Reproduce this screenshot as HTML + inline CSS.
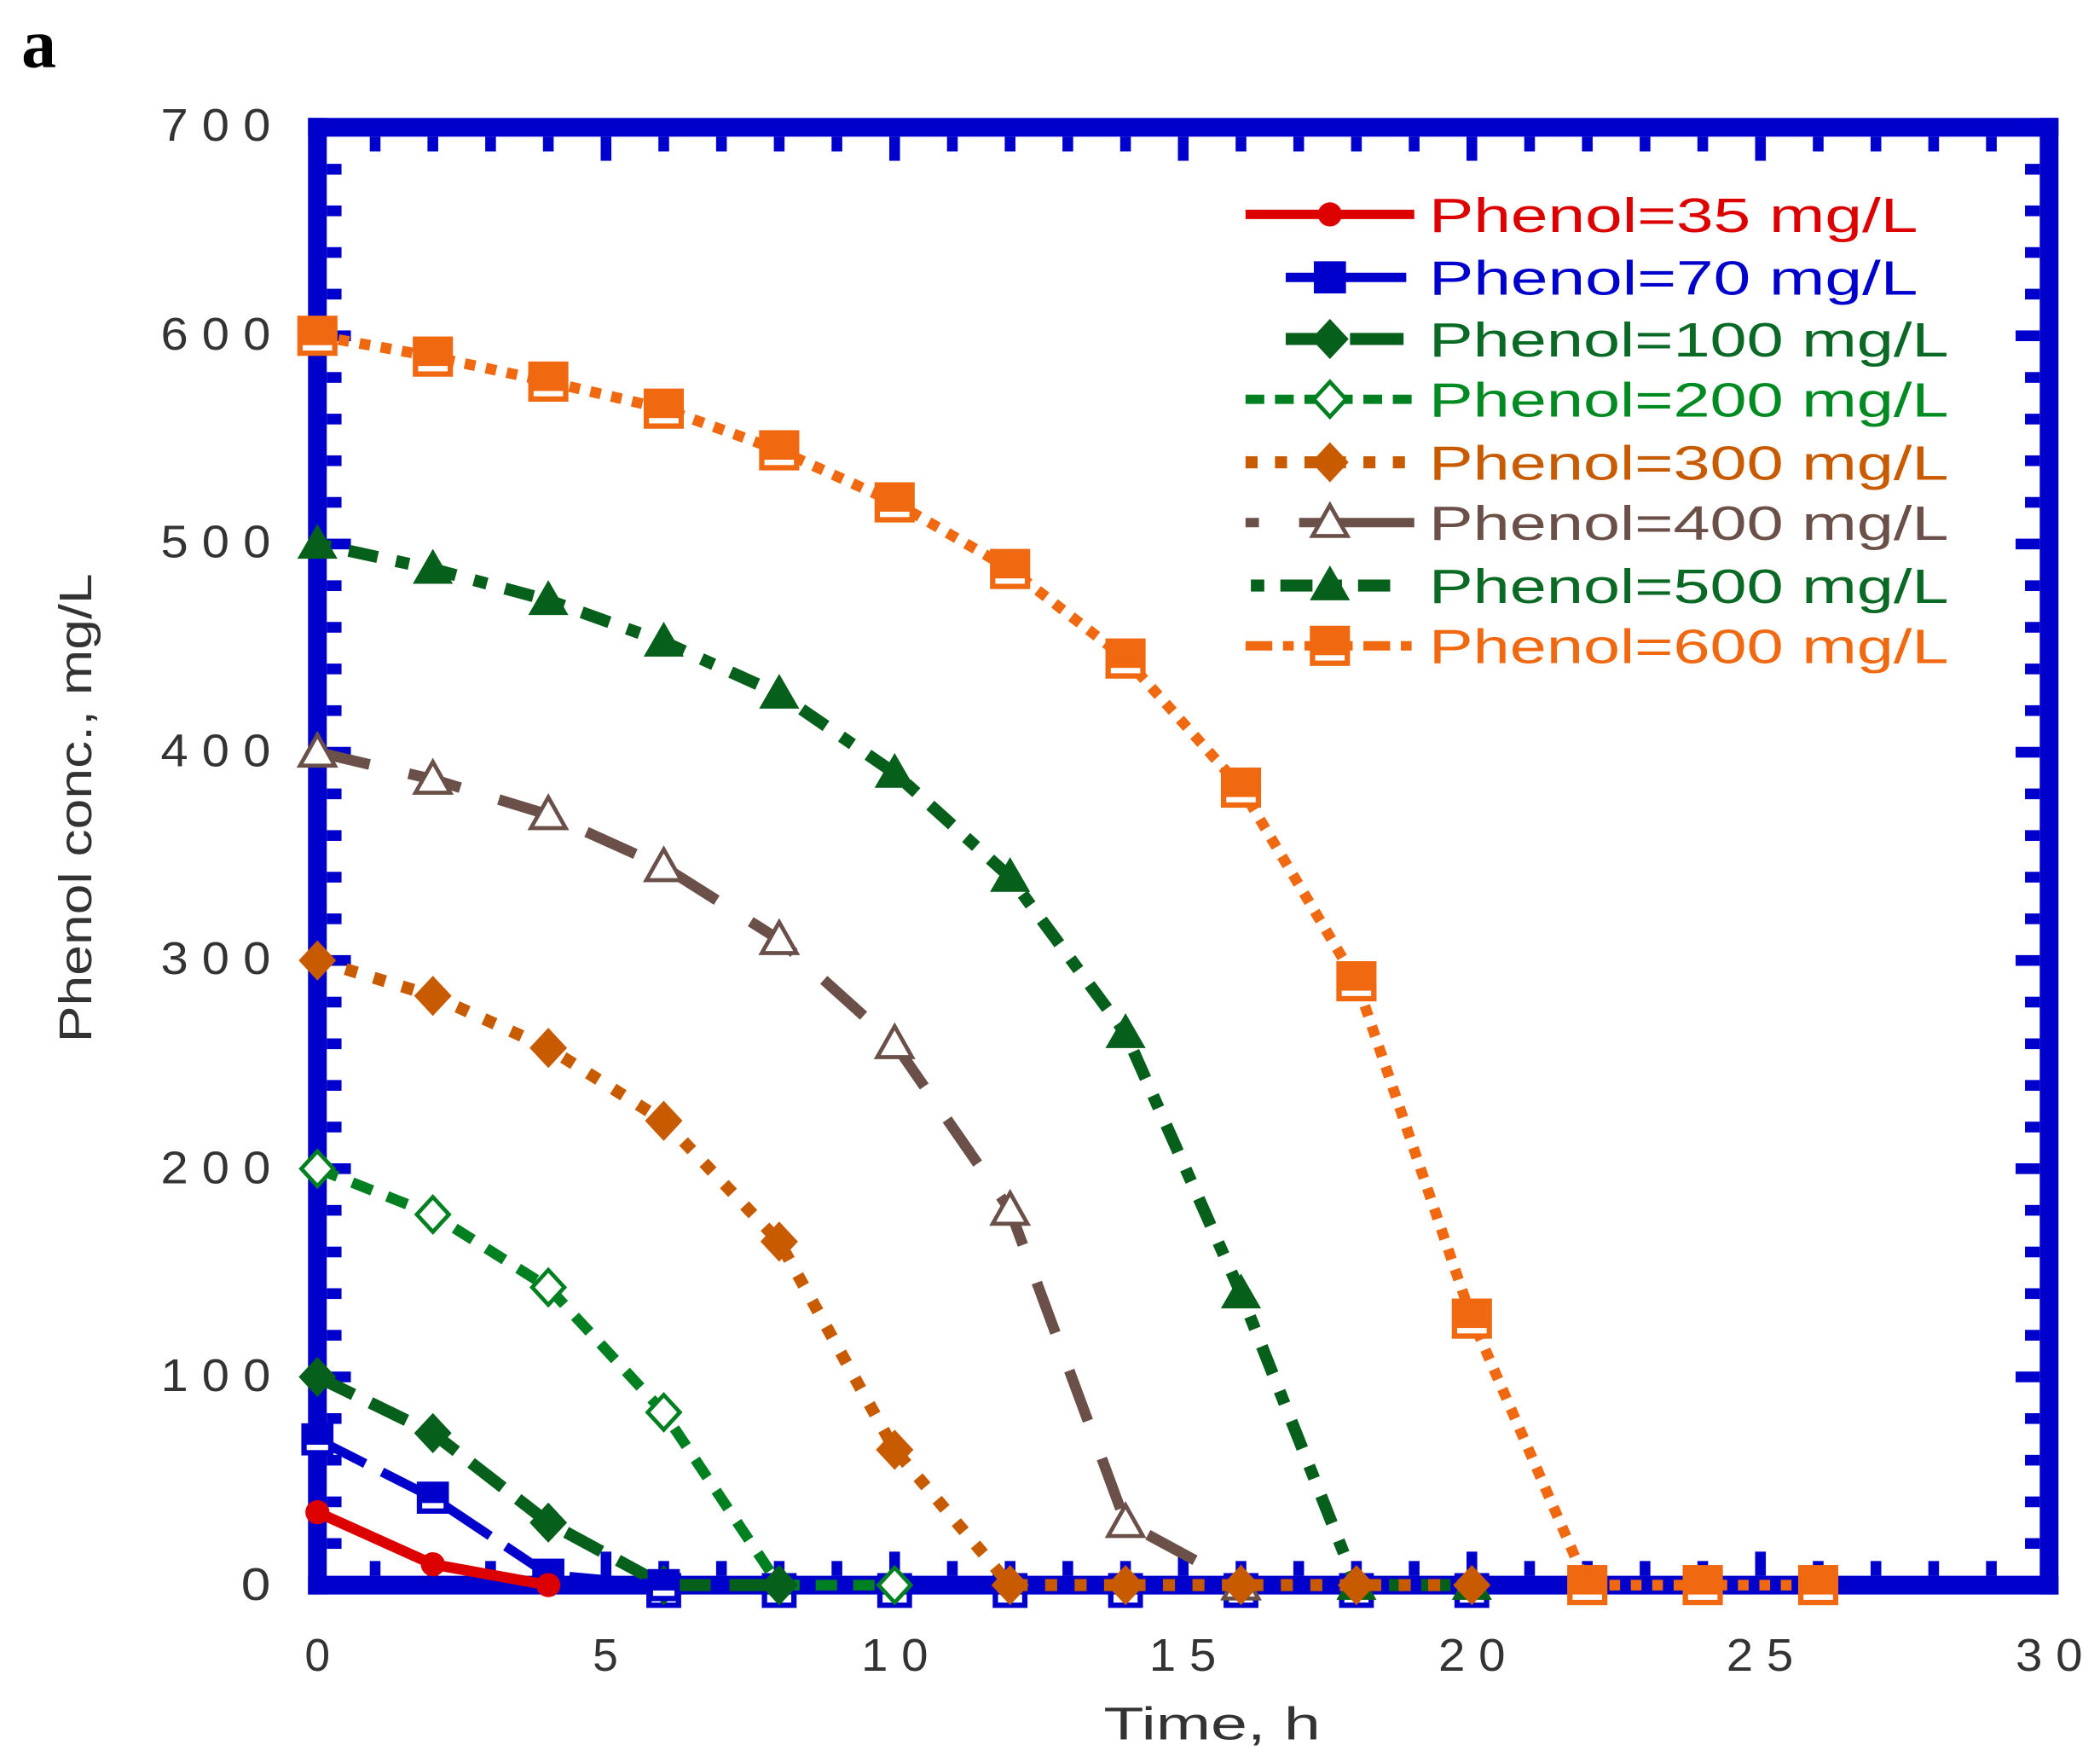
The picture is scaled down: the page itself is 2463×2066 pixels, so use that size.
<!DOCTYPE html>
<html><head><meta charset="utf-8"><style>html,body{margin:0;padding:0;background:#fff}svg{display:block}</style></head>
<body>
<svg width="2463" height="2066" viewBox="0 0 1568 1315" preserveAspectRatio="none" xmlns="http://www.w3.org/2000/svg" font-family="Liberation Sans, sans-serif">
<rect width="1568" height="1315" fill="#fff"/>
<text x="16" y="50" font-family="Liberation Serif, serif" font-weight="bold" font-size="52">a</text>
<g fill="#0000cc">
<rect x="230" y="88" width="1307" height="14"/>
<rect x="230" y="1176" width="1307" height="14"/>
<rect x="230" y="88" width="14" height="1102"/>
<rect x="1523" y="88" width="14" height="1102"/>
</g>
<g id="tk"></g>
<g font-size="34" fill="#333" text-anchor="end">
<text x="202" y="105" textLength="82" lengthAdjust="spacingAndGlyphs">7 0 0</text>
<text x="202" y="261" textLength="82" lengthAdjust="spacingAndGlyphs">6 0 0</text>
<text x="202" y="416" textLength="82" lengthAdjust="spacingAndGlyphs">5 0 0</text>
<text x="202" y="572" textLength="82" lengthAdjust="spacingAndGlyphs">4 0 0</text>
<text x="202" y="727" textLength="82" lengthAdjust="spacingAndGlyphs">3 0 0</text>
<text x="202" y="883" textLength="82" lengthAdjust="spacingAndGlyphs">2 0 0</text>
<text x="202" y="1038" textLength="82" lengthAdjust="spacingAndGlyphs">1 0 0</text>
<text x="202" y="1194" textLength="22" lengthAdjust="spacingAndGlyphs">0</text>
</g>
<g font-size="34" fill="#333" text-anchor="middle">
<text x="237" y="1247">0</text>
<text x="452" y="1247">5</text>
<text x="668" y="1247" textLength="50" lengthAdjust="spacingAndGlyphs">1 0</text>
<text x="883" y="1247" textLength="50" lengthAdjust="spacingAndGlyphs">1 5</text>
<text x="1099" y="1247" textLength="50" lengthAdjust="spacingAndGlyphs">2 0</text>
<text x="1314" y="1247" textLength="50" lengthAdjust="spacingAndGlyphs">2 5</text>
<text x="1530" y="1247" textLength="50" lengthAdjust="spacingAndGlyphs">3 0</text>
<text x="905" y="1298" textLength="162" lengthAdjust="spacingAndGlyphs">Time, h</text>
<text transform="translate(68,603) rotate(-90)" textLength="350" lengthAdjust="spacingAndGlyphs">Phenol conc., mg/L</text>
</g>
<g id="series"></g>
<g id="legend" font-size="36">
<text x="1067" y="173" fill="#dd0000" textLength="365" lengthAdjust="spacingAndGlyphs">Phenol=35 mg/L</text>
<text x="1067" y="220" fill="#0000cc" textLength="365" lengthAdjust="spacingAndGlyphs">Phenol=70 mg/L</text>
<text x="1067" y="266" fill="#0a6a25" textLength="388" lengthAdjust="spacingAndGlyphs">Phenol=100 mg/L</text>
<text x="1067" y="311" fill="#008a22" textLength="388" lengthAdjust="spacingAndGlyphs">Phenol=200 mg/L</text>
<text x="1067" y="358" fill="#c85a00" textLength="388" lengthAdjust="spacingAndGlyphs">Phenol=300 mg/L</text>
<text x="1067" y="403" fill="#6a5048" textLength="388" lengthAdjust="spacingAndGlyphs">Phenol=400 mg/L</text>
<text x="1067" y="450" fill="#0a6a25" textLength="388" lengthAdjust="spacingAndGlyphs">Phenol=500 mg/L</text>
<text x="1067" y="495" fill="#f06810" textLength="388" lengthAdjust="spacingAndGlyphs">Phenol=600 mg/L</text>
</g>
<g stroke-width="7" fill="none">
<line x1="930" y1="160" x2="1056" y2="160" stroke="#dd0000"/>
<line x1="960" y1="207" x2="1050" y2="207" stroke="#0000cc"/>
<line x1="960" y1="253" x2="1050" y2="253" stroke="#065f1a" stroke-width="9" stroke-dasharray="40 8"/>
<line x1="930" y1="298" x2="1056" y2="298" stroke="#008020" stroke-dasharray="14 8"/>
<line x1="930" y1="345" x2="1056" y2="345" stroke="#c85a00" stroke-width="9" stroke-dasharray="9 13"/>
<line x1="930" y1="390" x2="940" y2="390" stroke="#6a5048"/>
<line x1="970" y1="390" x2="1056" y2="390" stroke="#6a5048"/>
<line x1="934" y1="437" x2="1050" y2="437" stroke="#065f1a" stroke-width="9" stroke-dasharray="10 12 24 12"/>
<line x1="930" y1="482" x2="1056" y2="482" stroke="#f06810" stroke-dasharray="20 8 8 8"/>
</g>
<g id="lm"></g>
</svg>
<script>
(function(){
var NS="http://www.w3.org/2000/svg";
function X(t){return 237+t*43.1;}
function Y(v){return 1183-v*1.554;}
function el(n,a,p){var e=document.createElementNS(NS,n);for(var k in a)e.setAttribute(k,a[k]);(p||document.getElementById('series')).appendChild(e);return e;}
var tk=document.getElementById('tk');
for(var i=1;i<30;i++){var L=(i%5==0)?18:11;var x=X(i)-4;
el('rect',{x:x,y:102,width:8,height:L,fill:'#0000cc'},tk);
el('rect',{x:x,y:1176-L,width:8,height:L,fill:'#0000cc'},tk);}
for(var v=20;v<700;v+=20){var L=(v%100==0)?18:11;var y=Y(v)-4;
el('rect',{x:244,y:y,width:L,height:8,fill:'#0000cc'},tk);
el('rect',{x:1523-L,y:y,width:L,height:8,fill:'#0000cc'},tk);}
function marker(type,cx,cy,col,p){
var s=12;
if(type=='circle')el('circle',{cx:cx,cy:cy,r:9,fill:col},p);
else if(type=='sq')el('rect',{x:cx-s,y:cy-s,width:2*s,height:2*s,fill:col},p);
else if(type=='sqo'){s=(col=='#f06810')?15:12;el('rect',{x:cx-s,y:cy-s,width:2*s,height:2*s,fill:col},p);el('rect',{x:cx-s+4,y:cy+s-8,width:2*s-8,height:4,fill:'#fff'},p);}
else if(type=='sqb'){el('rect',{x:cx-11,y:cy-11,width:22,height:22,fill:'none',stroke:'#0000cc','stroke-width':4},p);}
else if(type=='dia')el('polygon',{points:(cx)+','+(cy-15)+' '+(cx+14)+','+cy+' '+cx+','+(cy+15)+' '+(cx-14)+','+cy,fill:col},p);
else if(type=='diao')el('polygon',{points:(cx)+','+(cy-13)+' '+(cx+12)+','+cy+' '+cx+','+(cy+13)+' '+(cx-12)+','+cy,fill:'#fff',stroke:col,'stroke-width':3},p);
else if(type=='tri')el('polygon',{points:cx+','+(cy-15)+' '+(cx+15)+','+(cy+11)+' '+(cx-15)+','+(cy+11),fill:col},p);
else if(type=='trio')el('polygon',{points:cx+','+(cy-13)+' '+(cx+13)+','+(cy+10)+' '+(cx-13)+','+(cy+10),fill:'#fff',stroke:col,'stroke-width':3},p);
}
var S=[
{d:[[0,600],[2,590],[4,578],[6,565],[8,545],[10,520],[12,488],[14,445],[16,383],[18,290],[20,128],[22,0],[24,0],[26,0]],c:'#f06810',m:'sqo',da:'8 8',w:8},
{d:[[0,500],[2,488],[4,473],[6,453],[8,428],[10,390],[12,340],[14,265],[16,140],[18,0],[20,0]],c:'#065f1a',m:'tri',da:'10 14 22 14',w:9},
{d:[[0,400],[2,387],[4,370],[6,345],[8,310],[10,260],[12,180],[14,30],[16,0]],c:'#6a5048',m:'trio',da:'40 30',w:8},
{d:[[0,300],[2,283],[4,258],[6,223],[8,165],[10,65],[12,0],[14,0],[16,0],[18,0],[20,0]],c:'#c85a00',m:'dia',da:'9 13',w:9},
{d:[[0,200],[2,178],[4,143],[6,83],[8,0],[10,0]],c:'#008020',m:'diao',da:'16 12',w:8},
{d:[[0,100],[2,73],[4,30],[6,0],[8,0]],c:'#065f1a',m:'dia',da:'30 14',w:9},
{d:[[0,70],[2,42],[4,5],[6,0]],c:'#0000cc',m:'sqo',da:'40 14',w:7},
{d:[[0,35],[2,10],[4,0]],c:'#dd0000',m:'circle',da:'none',w:8}
];
[6,8,10,12,14,16,18,20].forEach(function(t){marker('sqb',X(t),Y(0)+4,'#0000cc');});
S.forEach(function(s){
var pts=s.d.map(function(p){return X(p[0])+','+Y(p[1]);}).join(' ');
el('polyline',{points:pts,fill:'none',stroke:s.c,'stroke-width':s.w,'stroke-dasharray':s.da});
s.d.forEach(function(p){marker(s.m,X(p[0]),Y(p[1]),s.c);});
});
var lm=document.getElementById('lm');
marker('circle',993,160,'#dd0000',lm);
marker('sq',993,207,'#0000cc',lm);
marker('dia',993,253,'#065f1a',lm);
marker('diao',993,298,'#008020',lm);
marker('dia',993,345,'#c85a00',lm);
marker('trio',993,390,'#6a5048',lm);
marker('tri',993,437,'#065f1a',lm);
marker('sqo',993,482,'#f06810',lm);
})();
</script>
</body></html>
